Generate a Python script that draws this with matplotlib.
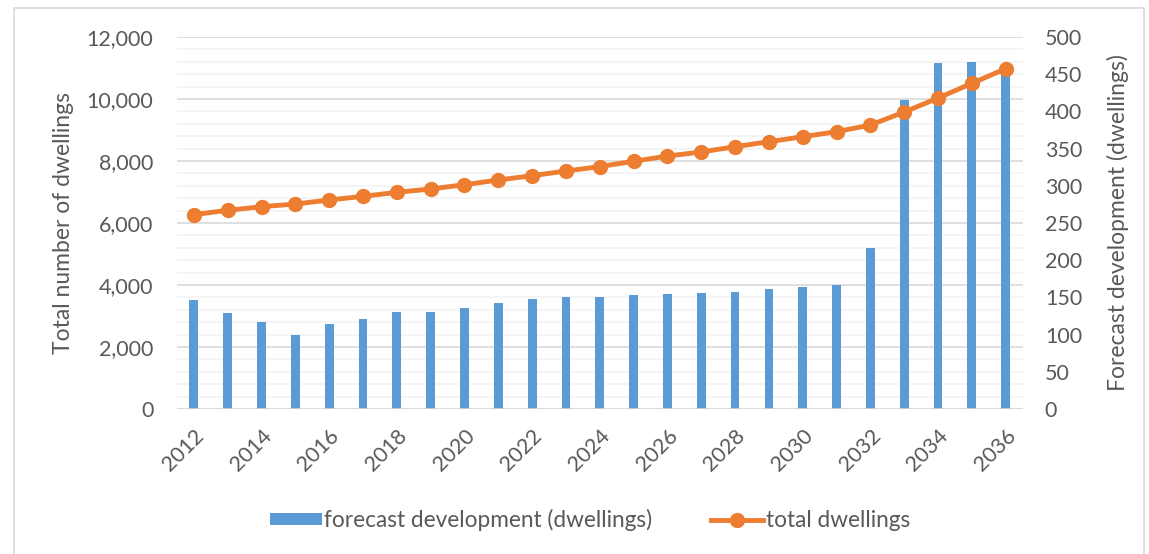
import numpy as np
import matplotlib.pyplot as plt
from matplotlib.ticker import FuncFormatter, MultipleLocator
from matplotlib.patches import Rectangle

# Data
years = list(range(2012, 2037))
forecast_dev = [147, 129, 117, 99, 114, 121, 130, 130, 136, 142, 148, 150, 151,
                153, 155, 156, 157, 161, 164, 167, 216, 416, 465, 466, 452]
total_dwellings = [6270, 6410, 6526, 6613, 6742, 6860, 6990, 7097, 7235, 7387,
                   7526, 7677, 7820, 7990, 8161, 8290, 8462, 8623, 8784, 8945,
                   9161, 9580, 10032, 10506, 10977]
tick_years = [str(y) if y % 2 == 0 else '' for y in years]

blue = '#5B9BD5'
orange = '#ED7D31'
text_col = '#595959'
plt.rcParams['font.family'] = ['Lato', 'DejaVu Sans']
plt.rcParams['font.size'] = 15.5

fig = plt.figure(figsize=(11.49, 5.54), dpi=100)
# chart area border
fig.patches.append(Rectangle((14 / 1149, -0.05), 1130 / 1149, 1.05 - 8 / 554,
                             transform=fig.transFigure, fill=False,
                             edgecolor='#D9D9D9', linewidth=1.2))

ax = fig.add_axes([0.154, 0.2617, 0.736, 0.6715])
x = np.arange(len(years))

# left axis: gridlines + labels
ax.set_xlim(-0.5, len(years) - 0.5)
ax.set_ylim(0, 12000)
ax.yaxis.set_major_locator(MultipleLocator(2000))
ax.yaxis.set_minor_locator(MultipleLocator(400))
ax.yaxis.set_major_formatter(FuncFormatter(lambda v, p: f'{int(v):,}'))
ax.grid(which='major', axis='y', color='#D9D9D9', linewidth=1.2)
ax.grid(which='minor', axis='y', color='#F2F2F2', linewidth=1.2)
ax.set_axisbelow(True)
for s in ax.spines.values():
    s.set_visible(False)
ax.tick_params(axis='y', which='both', length=0, pad=17, colors=text_col, labelsize=15.5)
ax.set_xticks(x)
ax.set_xticklabels(tick_years, rotation=45, ha='right', va='top', rotation_mode='anchor')
ax.tick_params(axis='x', length=0, pad=12, colors=text_col, labelsize=15.5)
ax.set_ylabel('Total number of dwellings', color=text_col, fontsize=16.5, labelpad=9)

# right axis: bars
ax2 = ax.twinx()
ax2.bar(x, forecast_dev, width=0.26, color=blue, label='forecast development (dwellings)', zorder=2)
ax2.set_ylim(0, 500)
ax2.yaxis.set_major_locator(MultipleLocator(50))
for s in ax2.spines.values():
    s.set_visible(False)
ax2.tick_params(axis='y', length=0, pad=16, colors=text_col, labelsize=15.5)
ax2.set_ylabel('Forecast development (dwellings)', color=text_col, fontsize=16.5, labelpad=18)
ax2.axhline(0, color='#D9D9D9', linewidth=1.8, zorder=3)

# line on top
ax3 = ax.twinx()
ax3.set_ylim(0, 12000)
ax3.plot(x, total_dwellings, color=orange, linewidth=3.5, marker='o', markersize=10,
         label='total dwellings')
ax3.axis('off')

h2, l2 = ax2.get_legend_handles_labels()
h3, l3 = ax3.get_legend_handles_labels()
fig.legend(h2 + h3, l2 + l3, loc='center', bbox_to_anchor=(590 / 1149, 1 - 520 / 554),
           ncol=2, frameon=False, fontsize=16.3, handlelength=2.3, handleheight=0.45,
           columnspacing=2.6, handletextpad=0.1, labelcolor=text_col)

plt.savefig('out.png', dpi=100)
